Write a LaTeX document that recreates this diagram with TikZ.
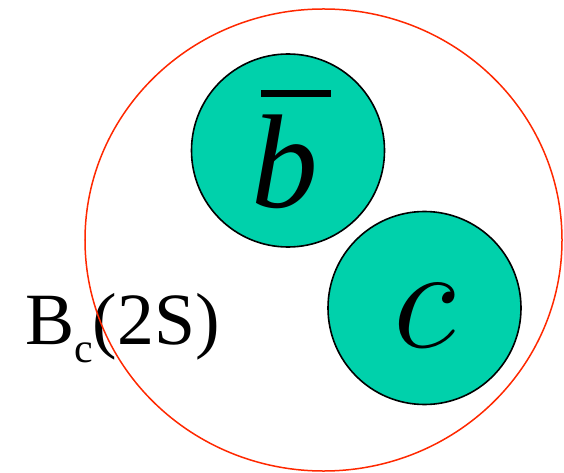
\documentclass[tikz,border=0pt]{standalone}
\usepackage{fix-cm}
\usepackage{fontspec}
\setmainfont{Liberation Serif}
\usepackage{tikz}
\usetikzlibrary{shapes.geometric, calc}
\definecolor{quarkteal}{RGB}{0, 209, 171}
\definecolor{mesonred}{RGB}{255, 40, 0}

\begin{document}
\begin{tikzpicture}[
  x=1bp, y=-1bp,
  quark/.style={circle, draw=black, line width=1.6bp, fill=quarkteal,
                minimum size=193bp, inner sep=0pt},
  meson/.style={ellipse, draw=mesonred, line width=1.5bp,
                minimum width=477bp, minimum height=462bp, inner sep=0pt},
  flavour/.style={font=\fontsize{134}{134}\selectfont\itshape, inner sep=0pt},
  lbl/.style={font=\fontsize{74}{80}\selectfont, inner sep=0pt}
]
\useasboundingbox (0,0) rectangle (564,473);
\node[lbl, anchor=base west] (name) at (25,344) {B\raisebox{-18bp}{\fontsize{42}{42}\selectfont c}(2S)};
\node[meson] (bc) at (323.5,240) {};
\node[quark] (bq) at (288,150.5) {};
\node[quark] (cq) at (424.5,308) {};
\node[flavour, anchor=base] (btxt) at (285,208) {b};
\node[flavour, anchor=base, font=\fontsize{148}{148}\selectfont] (ctxt) at (425,347) {$c$};
% bar over the b
\fill ($(btxt.base)+(-24,-118)$) rectangle ($(btxt.base)+(46,-111)$);
\end{tikzpicture}
\end{document}
